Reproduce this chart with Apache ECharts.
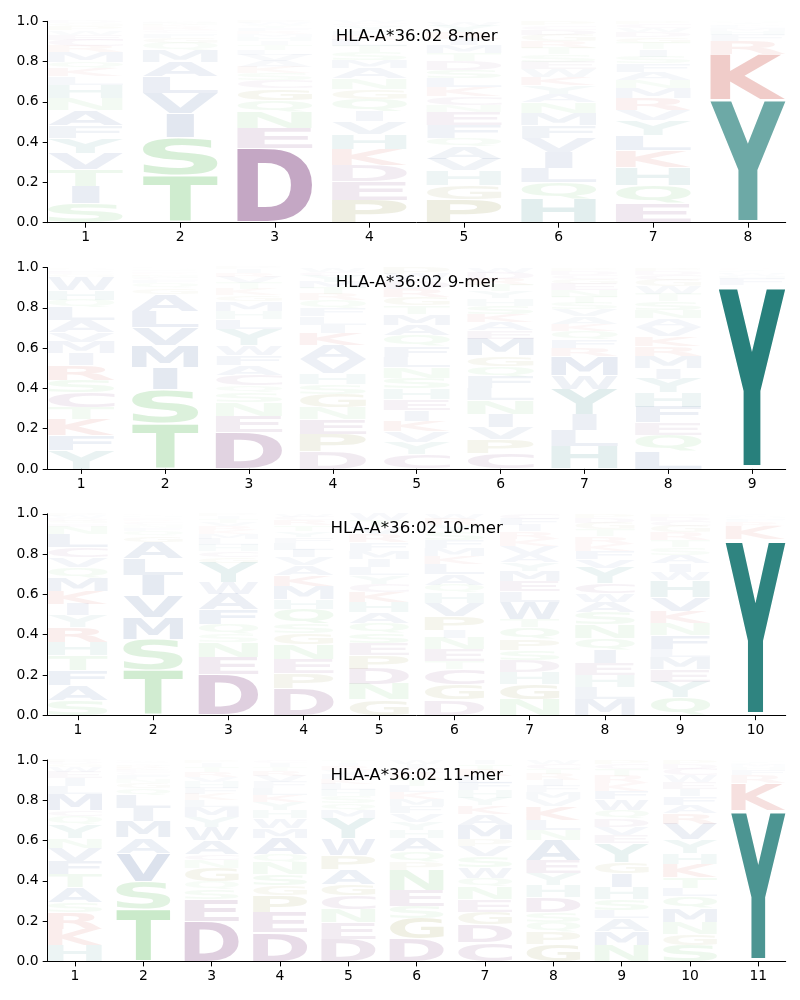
<!DOCTYPE html>
<html><head><meta charset="utf-8">
<script src="https://cdn.jsdelivr.net/npm/echarts/dist/echarts.min.js"></script>
</head>
<body style="margin:0;background:#fff">
<div id="c" style="width:800px;height:1000px"></div>
<script>
// ---- DATA: letter probabilities per position, stacked bottom -> top ----
const titles = ['HLA-A*36:02 8-mer', 'HLA-A*36:02 9-mer', 'HLA-A*36:02 10-mer', 'HLA-A*36:02 11-mer'];
const yTicks = [0, 0.2, 0.4, 0.6, 0.8, 1.0];

const mer8 = [
 [['S',.093],['I',.086],['T',.08],['V',.08],['Y',.075],['F',.06],['A',.075],['N',.06],['H',.066],['L',.04],['K',.04],['Q',.03],['M',.05],['R',.03],['C',.03],['E',.025],['W',.02],['P',.02],['G',.015],['D',.01]],
 [['T',.228],['S',.187],['I',.116],['V',.1],['L',.08],['A',.07],['M',.06],['Q',.035],['G',.025],['F',.02],['C',.015],['R',.015],['K',.01],['N',.01],['E',.005],['W',.005]],
 [['D',.366],['E',.1],['N',.08],['Q',.06],['G',.058],['C',.04],['S',.035],['K',.03],['A',.03],['V',.03],['L',.025],['T',.025],['I',.02],['H',.02],['M',.015],['R',.015],['F',.015],['Y',.012],['W',.01],['P',.01]],
 [['P',.11],['E',.09],['D',.08],['K',.08],['H',.075],['V',.06],['I',.05],['Q',.06],['G',.05],['N',.05],['A',.05],['M',.04],['S',.04],['T',.03],['L',.03],['R',.025],['F',.02],['Y',.02],['C',.015],['W',.01]],
 [['P',.104],['G',.066],['H',.066],['V',.053],['A',.055],['Q',.04],['F',.058],['E',.058],['N',.033],['C',.04],['K',.04],['L',.04],['S',.04],['D',.04],['T',.035],['M',.035],['I',.03],['R',.03],['Y',.03],['W',.02]],
 [['H',.113],['Q',.075],['L',.066],['I',.075],['V',.066],['F',.058],['M',.058],['N',.05],['A',.04],['Y',.04],['K',.04],['W',.035],['E',.035],['S',.035],['T',.03],['R',.03],['G',.03],['D',.025],['C',.02],['P',.02]],
 [['E',.096],['Q',.09],['H',.09],['K',.083],['L',.075],['Y',.075],['V',.05],['R',.058],['M',.05],['N',.04],['A',.04],['F',.04],['S',.035],['I',.035],['T',.03],['G',.03],['D',.025],['W',.02],['C',.02],['P',.015]],
 [['Y',.61],['K',.227],['R',.066],['F',.03],['H',.02],['M',.015],['L',.01],['W',.008],['I',.005],['Q',.005],['N',.004]]
];
const mer9 = [
 [['Y',.093],['F',.075],['K',.083],['T',.058],['C',.075],['S',.066],['R',.075],['I',.058],['M',.058],['V',.05],['A',.058],['L',.066],['Q',.04],['H',.05],['W',.066],['G',.015],['E',.01],['D',.008],['N',.008],['P',.006]],
 [['T',.225],['S',.17],['I',.108],['M',.108],['V',.09],['L',.083],['A',.083],['G',.03],['Q',.025],['F',.015],['C',.012],['N',.01],['K',.008],['R',.008],['E',.006],['D',.005],['H',.004],['Y',.004],['W',.003],['P',.003]],
 [['D',.184],['E',.083],['N',.066],['S',.05],['Q',.035],['C',.055],['A',.05],['F',.05],['W',.05],['Y',.08],['L',.05],['H',.04],['M',.05],['G',.03],['K',.03],['T',.03],['V',.03],['R',.02],['I',.02],['P',.01]],
 [['D',.084],['P',.083],['E',.075],['N',.058],['G',.066],['S',.05],['H',.05],['V',.07],['A',.07],['K',.058],['I',.04],['L',.04],['F',.04],['Q',.04],['R',.03],['T',.03],['M',.03],['Y',.03],['C',.02],['W',.02]],
 [['C',.068],['Y',.058],['V',.05],['K',.05],['I',.05],['E',.05],['H',.05],['S',.05],['N',.05],['L',.05],['F',.05],['Q',.05],['A',.05],['M',.05],['T',.04],['G',.04],['R',.04],['D',.04],['W',.03],['P',.03]],
 [['C',.076],['P',.066],['V',.058],['I',.066],['N',.066],['L',.058],['F',.058],['Q',.05],['G',.05],['M',.083],['E',.04],['A',.04],['K',.04],['S',.04],['H',.035],['Y',.035],['T',.03],['R',.03],['D',.03],['W',.025]],
 [['H',.109],['L',.075],['I',.075],['Y',.124],['W',.066],['M',.09],['R',.04],['F',.04],['Q',.04],['K',.035],['A',.035],['V',.035],['S',.03],['T',.03],['N',.03],['E',.03],['G',.025],['C',.02],['D',.02],['P',.015]],
 [['L',.084],['Q',.075],['E',.058],['F',.075],['H',.066],['Y',.066],['I',.05],['M',.058],['R',.045],['K',.045],['V',.045],['A',.04],['N',.04],['S',.04],['T',.035],['W',.035],['G',.03],['C',.025],['D',.02],['P',.015]],
 [['Y',.912],['F',.033],['H',.015],['W',.01],['M',.008],['L',.006],['I',.005],['K',.004],['R',.003],['N',.002],['Q',.002]]
];
const mer10 = [
 [['S',.075],['A',.075],['F',.075],['T',.075],['H',.066],['R',.075],['Y',.058],['I',.058],['K',.066],['M',.066],['Q',.05],['V',.05],['C',.05],['L',.066],['N',.04],['E',.015],['G',.015],['D',.012],['W',.012],['P',.01]],
 [['T',.224],['S',.15],['M',.108],['V',.108],['I',.1],['L',.083],['A',.083],['G',.03],['Q',.025],['F',.015],['N',.012],['C',.01],['K',.008],['R',.008],['E',.006],['D',.006],['H',.005],['Y',.005],['W',.004],['P',.004]],
 [['D',.207],['E',.09],['N',.075],['S',.04],['Q',.05],['F',.075],['A',.08],['W',.058],['Y',.1],['G',.03],['C',.03],['H',.03],['L',.03],['M',.025],['K',.02],['R',.02],['V',.02],['T',.02],['I',.015],['P',.01]],
 [['D',.14],['P',.075],['E',.075],['N',.075],['G',.058],['S',.05],['Q',.075],['H',.05],['M',.066],['K',.058],['A',.05],['V',.04],['I',.04],['L',.035],['F',.03],['Y',.03],['T',.03],['R',.025],['C',.02],['W',.015]],
 [['G',.075],['N',.075],['D',.075],['P',.066],['E',.058],['S',.05],['Q',.05],['A',.05],['H',.05],['K',.05],['C',.04],['Y',.04],['L',.04],['I',.04],['M',.04],['F',.04],['R',.04],['V',.035],['T',.035],['W',.03]],
 [['D',.075],['G',.075],['C',.075],['T',.04],['E',.058],['N',.058],['I',.04],['P',.066],['V',.066],['H',.05],['Q',.04],['A',.05],['L',.05],['K',.04],['M',.04],['F',.04],['S',.04],['Y',.035],['R',.03],['W',.025]],
 [['N',.075],['G',.075],['H',.058],['D',.058],['S',.05],['P',.05],['Q',.058],['T',.04],['W',.083],['L',.05],['E',.05],['M',.05],['Y',.04],['A',.04],['V',.04],['K',.035],['R',.035],['I',.03],['F',.03],['C',.025]],
 [['M',.075],['L',.058],['H',.058],['E',.058],['I',.066],['Q',.058],['N',.066],['S',.058],['A',.05],['W',.04],['C',.05],['Y',.075],['V',.04],['F',.04],['K',.035],['R',.035],['T',.035],['G',.03],['D',.025],['P',.02]],
 [['Q',.083],['Y',.075],['E',.058],['M',.058],['L',.04],['F',.066],['N',.058],['K',.058],['V',.066],['H',.08],['W',.04],['I',.04],['A',.04],['S',.035],['T',.035],['R',.035],['G',.03],['C',.025],['D',.02],['P',.015]],
 [['Y',.87],['K',.066],['R',.02],['F',.01],['H',.008],['M',.006],['W',.005],['L',.004],['I',.003],['Q',.003],['N',.002]]
];
const mer11 = [
 [['H',.078],['K',.083],['R',.083],['S',.05],['A',.075],['T',.066],['F',.066],['V',.066],['N',.05],['Y',.066],['Q',.04],['C',.03],['M',.083],['L',.04],['I',.04],['E',.03],['W',.025],['G',.015],['D',.01],['P',.01]],
 [['T',.256],['S',.14],['V',.14],['A',.075],['M',.083],['I',.065],['L',.065],['Q',.03],['G',.025],['N',.02],['F',.02],['C',.015],['E',.01],['K',.01],['R',.01],['H',.008],['Y',.008],['D',.006],['W',.005],['P',.004]],
 [['D',.2],['E',.108],['S',.05],['Q',.04],['G',.066],['N',.04],['C',.03],['A',.066],['W',.066],['Y',.05],['M',.05],['L',.035],['K',.03],['F',.03],['H',.03],['V',.025],['R',.025],['T',.025],['I',.02],['P',.015]],
 [['D',.145],['E',.1],['P',.083],['G',.05],['S',.058],['N',.058],['Q',.04],['A',.083],['M',.05],['W',.05],['H',.04],['Y',.04],['K',.035],['L',.035],['F',.03],['V',.03],['R',.025],['T',.02],['I',.02],['C',.015]],
 [['D',.11],['E',.083],['N',.066],['C',.066],['G',.058],['A',.075],['P',.066],['W',.083],['Y',.1],['M',.04],['Q',.035],['S',.035],['H',.03],['L',.03],['K',.025],['F',.025],['V',.02],['R',.02],['I',.015],['T',.015]],
 [['D',.11],['G',.1],['S',.058],['E',.075],['N',.1],['P',.04],['Q',.05],['A',.066],['H',.04],['Y',.04],['V',.04],['F',.035],['M',.035],['K',.035],['L',.03],['T',.03],['R',.03],['C',.025],['I',.02],['W',.02]],
 [['C',.086],['D',.083],['G',.058],['E',.058],['N',.058],['Q',.04],['W',.05],['S',.05],['V',.05],['P',.03],['M',.066],['A',.05],['K',.04],['Y',.035],['H',.035],['F',.035],['L',.03],['R',.03],['T',.025],['I',.02]],
 [['G',.086],['P',.058],['Q',.05],['S',.05],['D',.075],['H',.058],['Y',.058],['E',.066],['A',.1],['N',.05],['L',.05],['K',.066],['V',.035],['M',.035],['F',.03],['I',.03],['R',.03],['T',.025],['C',.025],['W',.02]],
 [['N',.078],['M',.066],['A',.058],['L',.04],['S',.05],['H',.058],['I',.066],['G',.05],['Y',.09],['E',.04],['V',.04],['D',.04],['Q',.04],['W',.05],['F',.04],['K',.035],['R',.035],['T',.03],['C',.025],['P',.02]],
 [['S',.078],['G',.05],['N',.058],['M',.066],['Q',.058],['L',.04],['T',.05],['K',.066],['H',.05],['Y',.066],['V',.075],['R',.05],['A',.04],['F',.04],['I',.035],['E',.035],['W',.03],['C',.03],['D',.025],['P',.02]],
 [['Y',.75],['K',.133],['R',.04],['F',.025],['H',.015],['M',.01],['W',.008],['L',.006],['I',.005],['N',.004],['Q',.004]]
];

// ---- STYLE ----
const groupColor = {
  blue: [30, 70, 140], teal: [40, 128, 124], mauve: [110, 40, 110],
  red: [195, 50, 40], green: [70, 180, 70], khaki: [120, 120, 20]
};
const letterGroup = {A:'blue',V:'blue',L:'blue',I:'blue',M:'blue',F:'blue',W:'blue',
  Y:'teal',H:'teal',D:'mauve',E:'mauve',C:'mauve',K:'red',R:'red',
  S:'green',T:'green',N:'green',Q:'green',G:'khaki',P:'khaki'};
const GLYPH_FONT = 'bold 200px "DejaVu Sans"';
const FAM = 'DejaVu Sans';
const panelTops = [21.3, 267.5, 513.8, 760];
const panelH = 201.4, gridLeft = 47.7, gridW = 738;
const HALF_W = 0.396, VPAD = 0.02;

// glyph ink metrics
const mcv = document.createElement('canvas').getContext('2d');
mcv.font = GLYPH_FONT; mcv.textBaseline = 'middle'; mcv.textAlign = 'left';
const metCache = {};
function met(ch) {
  if (!metCache[ch]) {
    const m = mcv.measureText(ch);
    metCache[ch] = {l: m.actualBoundingBoxLeft, r: m.actualBoundingBoxRight,
                    a: m.actualBoundingBoxAscent, d: m.actualBoundingBoxDescent};
  }
  return metCache[ch];
}
const E_W = met('E').l + met('E').r;

const allData = [mer8, mer9, mer10, mer11];
const grids = [], xAxes = [], yAxes = [], series = [], graphics = [];

allData.forEach((cols, pi) => {
  const n = cols.length;
  const items = [];
  cols.forEach((col, ci) => {
    const tot = col.reduce((s, p) => s + p[1], 0);
    let y0 = 0;
    col.forEach(([ch, v]) => {
      const h = v / tot;
      items.push({pos: ci + 1, y0: y0, y1: y0 + h, ch: ch, h: h});
      y0 += h;
    });
  });
  grids.push({left: gridLeft, width: gridW, top: panelTops[pi], height: panelH, outerBoundsMode: 'none'});
  const ticks = cols.map((_, i) => i + 1);
  xAxes.push({
    gridIndex: pi, type: 'value', min: 0.6, max: n + 0.4,
    axisLine: {lineStyle: {color: '#000', width: 1}},
    axisTick: {show: true, length: 5, customValues: ticks, lineStyle: {color: '#000'}},
    axisLabel: {customValues: ticks, color: '#000', fontSize: 13.9, fontFamily: FAM, margin: 8},
    splitLine: {show: false}
  });
  yAxes.push({
    gridIndex: pi, type: 'value', min: 0, max: 1, interval: 0.2,
    axisLine: {show: true, lineStyle: {color: '#000', width: 1}},
    axisTick: {show: true, length: 5, lineStyle: {color: '#000'}},
    axisLabel: {color: '#000', fontSize: 13.9, fontFamily: FAM, margin: 9,
      formatter: v => v.toFixed(1)},
    splitLine: {show: false}
  });
  series.push({
    type: 'custom', xAxisIndex: pi, yAxisIndex: pi, silent: true, clip: false,
    data: items.map(it => [it.pos, it.y0, it.y1]),
    renderItem: (params, api) => {
      const it = items[params.dataIndex];
      const pA = api.coord([api.value(0) - HALF_W, api.value(1)]);
      const pB = api.coord([api.value(0) + HALF_W, api.value(2)]);
      const boxH = pA[1] - pB[1];
      const L = pA[0], R = pB[0];
      const B = pA[1] - boxH * VPAD, T = pB[1] + boxH * VPAD;
      if (B - T <= 0.05) return null;
      const m = met(it.ch);
      const inkW = m.l + m.r, inkH = m.a + m.d;
      const sx = Math.min((R - L) / inkW, (R - L) / E_W);
      const Lc = L + ((R - L) - sx * inkW) / 2;
      const sy = (B - T) / inkH;
      const c = groupColor[letterGroup[it.ch]];
      const alpha = Math.min(1, it.h / 0.9);
      return {
        type: 'text', x: Lc + sx * m.l, y: T + sy * m.a, scaleX: sx, scaleY: sy,
        style: {text: it.ch, x: 0, y: 0, font: GLYPH_FONT, align: 'left', verticalAlign: 'middle',
          fill: 'rgba(' + c[0] + ',' + c[1] + ',' + c[2] + ',' + alpha.toFixed(3) + ')'}
      };
    }
  });
  graphics.push({
    type: 'text', x: gridLeft + gridW / 2, y: panelTops[pi] + 15.3, silent: true,
    style: {text: titles[pi], fill: '#000', font: '16.67px "DejaVu Sans"', align: 'center', verticalAlign: 'middle'}
  });
});

const chart = echarts.init(document.getElementById('c'), null, {renderer: 'canvas'});
chart.setOption({
  animation: false, backgroundColor: '#fff',
  grid: grids, xAxis: xAxes, yAxis: yAxes, series: series, graphic: graphics
});
</script>
</body></html>
